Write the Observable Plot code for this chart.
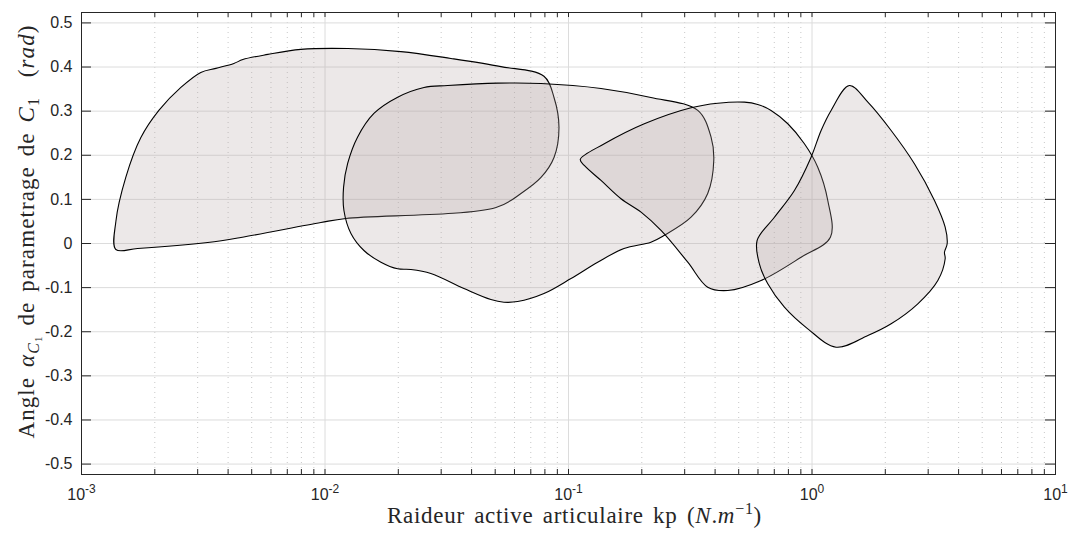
<!DOCTYPE html>
<html><head><meta charset="utf-8">
<script src="https://cdn.jsdelivr.net/npm/d3@7"></script>
<script src="https://cdn.jsdelivr.net/npm/@observablehq/plot@0.6"></script>
<style>body{margin:0;background:#fff} svg text{white-space:pre}</style>
</head><body><div id="chart"></div>
<script>
// ---- axes ----
const xDomain = [1e-3, 10];
const yDomain = [-0.5236, 0.5236];
const xTicks = [0.001, 0.01, 0.1, 1, 10];
const xTickExponents = ["-3", "-2", "-1", "0", "1"];
const yTicks = [-0.5, -0.4, -0.3, -0.2, -0.1, 0, 0.1, 0.2, 0.3, 0.4, 0.5];
const yTickLabels = ["-0.5", "-0.4", "-0.3", "-0.2", "-0.1", "0", "0.1", "0.2", "0.3", "0.4", "0.5"];

// ---- data: four closed regions (kp, angle) ----
const shape1Kp = [0.001384, 0.001384, 0.00152, 0.001753, 0.002078, 0.002559, 0.00309, 0.003563, 0.004224, 0.0046, 0.005827, 0.00796, 0.01242, 0.0205, 0.0329, 0.0528, 0.0793, 0.0872, 0.0914, 0.0872, 0.0771, 0.0638, 0.0504, 0.01219, 0.00962, 0.004513, 0.0033, 0.0017];
const shape1Angle = [-0.0136, 0.0499, 0.1497, 0.240, 0.3016, 0.3537, 0.3878, 0.397, 0.408, 0.417, 0.4286, 0.440, 0.442, 0.435, 0.4195, 0.401, 0.379, 0.331, 0.263, 0.195, 0.1497, 0.1134, 0.0816, 0.0567, 0.0476, 0.0136, 0.0023, -0.0113];

const shape2Kp = [0.0319, 0.0512, 0.0771, 0.136, 0.218, 0.3396, 0.385, 0.395, 0.373, 0.3186, 0.2468, 0.218, 0.169, 0.1318, 0.1024, 0.0793, 0.0618, 0.0543, 0.048, 0.0372, 0.0272, 0.02254, 0.01988, 0.01697, 0.01445, 0.01278, 0.01196, 0.01192, 0.01239, 0.0136, 0.01588, 0.01988, 0.0255];
const shape2Angle = [0.358, 0.3635, 0.3628, 0.3515, 0.331, 0.3016, 0.241, 0.188, 0.1134, 0.0596, 0.0181, 0.003, -0.0113, -0.0424, -0.0794, -0.1134, -0.1315, -0.133, -0.127, -0.102, -0.068, -0.059, -0.0574, -0.0424, -0.0159, 0.0227, 0.0748, 0.1277, 0.1814, 0.241, 0.2948, 0.3317, 0.3537];

const shape3Kp = [0.1118, 0.1403, 0.2048, 0.3186, 0.410, 0.5277, 0.5985, 0.679, 0.7956, 0.9307, 1.056, 1.161, 1.19, 0.902, 0.618, 0.451, 0.373, 0.3089, 0.2399, 0.1986, 0.1643, 0.136, 0.1161];
const shape3Angle = [0.1905, 0.226, 0.2714, 0.3077, 0.318, 0.3204, 0.3152, 0.3016, 0.2714, 0.226, 0.173, 0.0975, 0.0143, -0.031, -0.0839, -0.1066, -0.099, -0.0424, 0.0295, 0.071, 0.1014, 0.1429, 0.1769];

const shape4Kp = [1.4245, 1.696, 2.1135, 2.634, 3.184, 3.523, 3.59, 3.50, 3.523, 3.287, 2.72, 2.1135, 1.696, 1.256, 0.961, 0.7703, 0.6583, 0.608, 0.5951, 0.7009, 0.8468, 0.9915, 1.09, 1.198];
const shape4Angle = [0.358, 0.3204, 0.2562, 0.1807, 0.0975, 0.037, -0.0007, -0.0197, -0.0347, -0.0839, -0.1367, -0.182, -0.2086, -0.2351, -0.1934, -0.1444, -0.0914, -0.046, 0.0068, 0.0596, 0.1202, 0.1957, 0.2562, 0.3016];

const shapeNames = ["zone 1", "zone 2", "zone 3", "zone 4"];
const shapeKp = [shape1Kp, shape2Kp, shape3Kp, shape4Kp];
const shapeAngle = [shape1Angle, shape2Angle, shape3Angle, shape4Angle];

const rows = [];
shapeNames.forEach((name, s) => shapeKp[s].forEach((kp, i) => rows.push({shape: name, kp, angle: shapeAngle[s][i]})));

// ---- layout ----
const W = 1068, H = 536, mL = 81, mR = 13, mT = 12, mB = 62;
const plotW = W - mL - mR, plotH = H - mT - mB;
const axisColor = "#262626";
const allXTicks = d3.scaleLog().domain(xDomain).ticks();
const minorX = allXTicks.filter(v => !xTicks.some(t => Math.abs(v - t) / t < 1e-6));
const serif = "'Liberation Serif', 'DejaVu Serif', serif";

const chart = Plot.plot({
  width: W, height: H,
  marginLeft: mL, marginRight: mR, marginTop: mT, marginBottom: mB,
  style: {fontFamily: "'Liberation Sans', Arial, sans-serif", background: "#fff", color: axisColor},
  x: {type: "log", domain: xDomain},
  y: {domain: yDomain},
  marks: [
    Plot.ruleX(minorX, {stroke: "#c8c8c8", strokeDasharray: "1,4"}),
    Plot.ruleX(xTicks, {stroke: "#dcdcdc"}),
    Plot.ruleY(yTicks, {stroke: "#dcdcdc"}),
    Plot.line(rows, {x: "kp", y: "angle", z: "shape", curve: "catmull-rom-closed",
      fill: "#b5a3a3", fillOpacity: 0.25, stroke: "#000", strokeWidth: 1.1}),
    // inner tick marks (left / right / bottom / top)
    Plot.tickY(yTicks, {y: d => d, insetRight: plotW - 10, stroke: axisColor}),
    Plot.tickY(yTicks, {y: d => d, insetLeft: plotW - 10, stroke: axisColor}),
    Plot.tickX(allXTicks, {x: d => d, insetTop: plotH - 5, stroke: axisColor}),
    Plot.tickX(allXTicks, {x: d => d, insetBottom: plotH - 5, stroke: axisColor}),
    Plot.frame({stroke: axisColor, strokeWidth: 1}),
    Plot.axisX({ticks: xTicks, tickSize: 0, tickPadding: 14, tickFormat: () => "10", fontSize: 16, label: null}),
    Plot.axisY({ticks: yTicks, tickSize: 0, tickPadding: 9, tickFormat: d => yTickLabels[yTicks.indexOf(d)], fontSize: 16, label: null}),
    Plot.text(["x"], {frameAnchor: "bottom", dx: 6, dy: 41, textAnchor: "middle", lineAnchor: "middle",
      text: () => "Raideur active articulaire kp (N.m-1)",
      fontFamily: serif, fontSize: 23, fill: axisColor, ariaLabel: () => "x-title"}),
    Plot.text(["y"], {frameAnchor: "left", dx: -55, dy: -12, rotate: -90, textAnchor: "middle", lineAnchor: "middle",
      text: () => "Angle αC1 de parametrage de C1 (rad)",
      fontFamily: serif, fontSize: 23, fill: axisColor, ariaLabel: () => "y-title"})
  ]
});
document.getElementById("chart").appendChild(chart);

// ---- rich text (italic math, sub/superscripts) ----
function rich(sel, parts, spacing, wordSpacing) {
  sel.each(function () {
    const t = d3.select(this);
    t.text(null);
    t.attr("letter-spacing", spacing).attr("word-spacing", wordSpacing);
    let cur = 0;
    parts.forEach(p => {
      const s = p.shift || 0;
      const ts = t.append("tspan").text(p.t);
      if (s !== cur) ts.attr("dy", s - cur);
      cur = s;
      if (p.i) ts.attr("font-style", "italic");
      if (p.size) ts.attr("font-size", p.size);
    });
  });
}
const svg = d3.select(chart);
svg.selectAll('g[aria-label="x-axis tick label"] text').each(function (d, i) {
  const t = d3.select(this);
  const e = xTickExponents[i];
  t.text(null);
  t.append("tspan").text("10");
  t.append("tspan").attr("dy", -7).attr("font-size", 12).text(e);
});
rich(svg.selectAll('text[aria-label="x-title"], [aria-label="x-title"] text'), [
  {t: "Raideur active articulaire kp ("},
  {t: "N", i: true}, {t: "."}, {t: "m", i: true},
  {t: "−1", size: 16, shift: -9},
  {t: ")"}
], 0.7, 3);
rich(svg.selectAll('text[aria-label="y-title"], [aria-label="y-title"] text'), [
  {t: "Angle "}, {t: "α", i: true},
  {t: "C", i: true, size: 16, shift: 5},
  {t: "1", size: 11, shift: 8},
  {t: " de parametrage de "},
  {t: "C", i: true},
  {t: "1", size: 16, shift: 5},
  {t: "  ("}, {t: "rad", i: true}, {t: ")"}
], 1.1, 3);
</script>
</body></html>
